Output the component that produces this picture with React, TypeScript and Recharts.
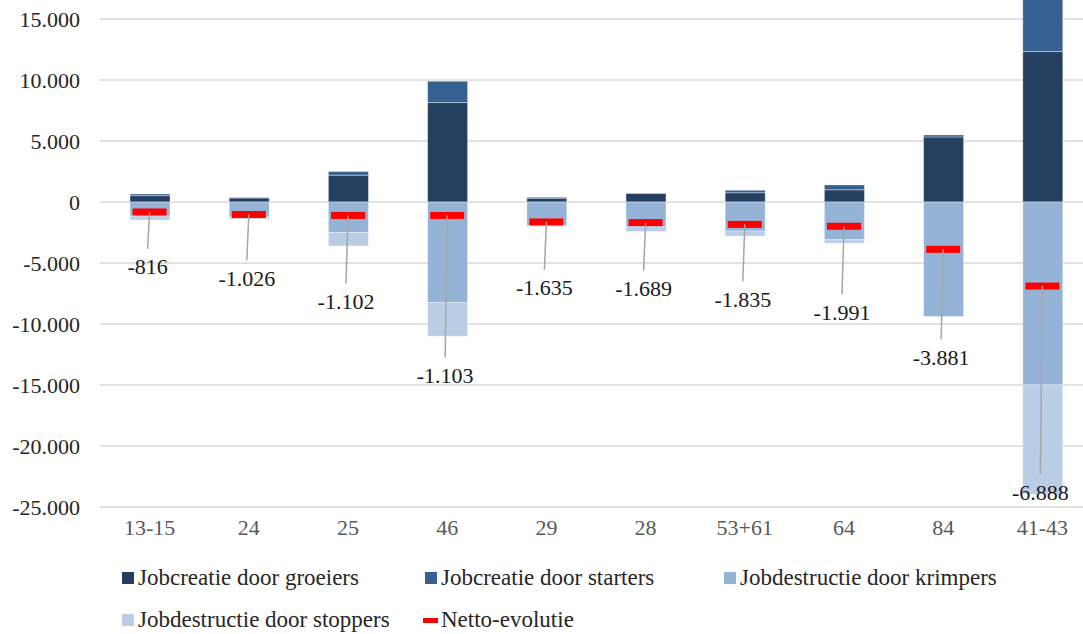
import { ComposedChart, Bar, Line, XAxis, YAxis, CartesianGrid } from "recharts";

const categories = ["13-15", "24", "25", "46", "29", "28", "53+61", "64", "84", "41-43"];
const groeiers = [520, 330, 2200, 8150, 310, 700, 760, 1000, 5330, 12330];
const starters = [140, 30, 300, 1750, 70, 30, 200, 400, 170, 4730];
const krimpers = [-1150, -1240, -2500, -8250, -1940, -2050, -2380, -3100, -9380, -14990];
const stoppers = [-330, -146, -1100, -2750, -75, -370, -415, -291, 0, -8960];
const netto = [-816, -1026, -1102, -1103, -1635, -1689, -1835, -1991, -3881, -6888];
const yTicks = [-25000, -20000, -15000, -10000, -5000, 0, 5000, 10000, 15000];

// how far below the red marker each data label sits (px), hand placed like in the original
const labelDrop = [55, 64, 86, 160, 66, 66, 75, 86, 108, 206];

const data = categories.map((c, i) => ({
  name: c,
  groeiers: groeiers[i],
  starters: starters[i],
  krimpers: krimpers[i],
  stoppers: stoppers[i],
  netto: netto[i],
}));

const FONT = '"Liberation Serif", "DejaVu Serif", serif';

function fmt(v: number) {
  const s = Math.abs(v).toString().replace(/\B(?=(\d{3})+(?!\d))/g, ".");
  return (v < 0 ? "-" : "") + s;
}

function NetDot(props: any) {
  const { cx, cy, index, value } = props;
  if (cx == null || cy == null) return <g key={"n" + index} />;
  const drop = labelDrop[index];
  const ex = cx - 2;
  return (
    <g key={"n" + index}>
      <rect x={cx - 17} y={cy - 3.5} width={34} height={7} fill="#FF0000" />
      <line x1={cx} y1={cy} x2={ex} y2={cy + drop - 18} stroke="#A6A6A6" strokeWidth={1.5} />
      <text
        x={ex}
        y={cy + drop}
        textAnchor="middle"
        dominantBaseline="central"
        fontSize={22}
        fontFamily={FONT}
        fill="#1a1a1a"
      >
        {fmt(value)}
      </text>
    </g>
  );
}

const legendItems = [
  { label: "Jobcreatie door groeiers", color: "#243F60", x: 122, y: 578, dash: false },
  { label: "Jobcreatie door starters", color: "#366092", x: 425, y: 578, dash: false },
  { label: "Jobdestructie door krimpers", color: "#95B3D7", x: 724, y: 578, dash: false },
  { label: "Jobdestructie door stoppers", color: "#B9CDE5", x: 122, y: 620, dash: false },
  { label: "Netto-evolutie", color: "#FF0000", x: 423, y: 620, dash: true },
];

export default function App() {
  const barStroke = { stroke: "#ffffff", strokeWidth: 0.75, strokeOpacity: 0.5 };
  return (
    <div
      style={{
        position: "absolute",
        left: 0,
        top: 0,
        width: 1083,
        height: 634,
        overflow: "hidden",
        background: "#fff",
        fontFamily: FONT,
      }}
    >
      <div style={{ position: "absolute", left: 0, top: -42 }}>
        <ComposedChart
          width={1100}
          height={640}
          data={data}
          stackOffset="sign"
          margin={{ top: 0, right: 8, bottom: 61, left: 0 }}
        >
          <CartesianGrid vertical={false} stroke="#D9D9D9" strokeWidth={1.5} />
          <XAxis
            dataKey="name"
            axisLine={false}
            tickLine={false}
            tickSize={0}
            tickMargin={12}
            height={30}
            tick={{ fill: "#595959", fontSize: 22, fontFamily: FONT }}
          />
          <YAxis
            domain={[-25000, 20000]}
            ticks={yTicks}
            interval={0}
            width={100}
            axisLine={false}
            tickLine={false}
            tickSize={0}
            tickMargin={20}
            tickFormatter={fmt}
            tick={{ fill: "#262626", fontSize: 22, fontFamily: FONT }}
          />
          <Bar dataKey="groeiers" stackId="a" fill="#243F60" barSize={40} isAnimationActive={false} {...barStroke} />
          <Bar dataKey="starters" stackId="a" fill="#366092" barSize={40} isAnimationActive={false} {...barStroke} />
          <Bar dataKey="krimpers" stackId="a" fill="#95B3D7" barSize={40} isAnimationActive={false} {...barStroke} />
          <Bar dataKey="stoppers" stackId="a" fill="#B9CDE5" barSize={40} isAnimationActive={false} {...barStroke} />
          <Line
            dataKey="netto"
            stroke="none"
            dot={NetDot}
            activeDot={false}
            isAnimationActive={false}
          />
        </ComposedChart>
      </div>
      {legendItems.map((it) => (
        <div
          key={it.label}
          style={{
            position: "absolute",
            left: it.x,
            top: it.y - 14,
            height: 28,
            display: "flex",
            alignItems: "center",
            fontSize: 23,
            color: "#262626",
            whiteSpace: "nowrap",
          }}
        >
          <span
            style={{
              display: "inline-block",
              width: it.dash ? 15 : 12,
              height: it.dash ? 5 : 12,
              background: it.color,
              marginRight: it.dash ? 3 : 4,
            }}
          />
          {it.label}
        </div>
      ))}
    </div>
  );
}
